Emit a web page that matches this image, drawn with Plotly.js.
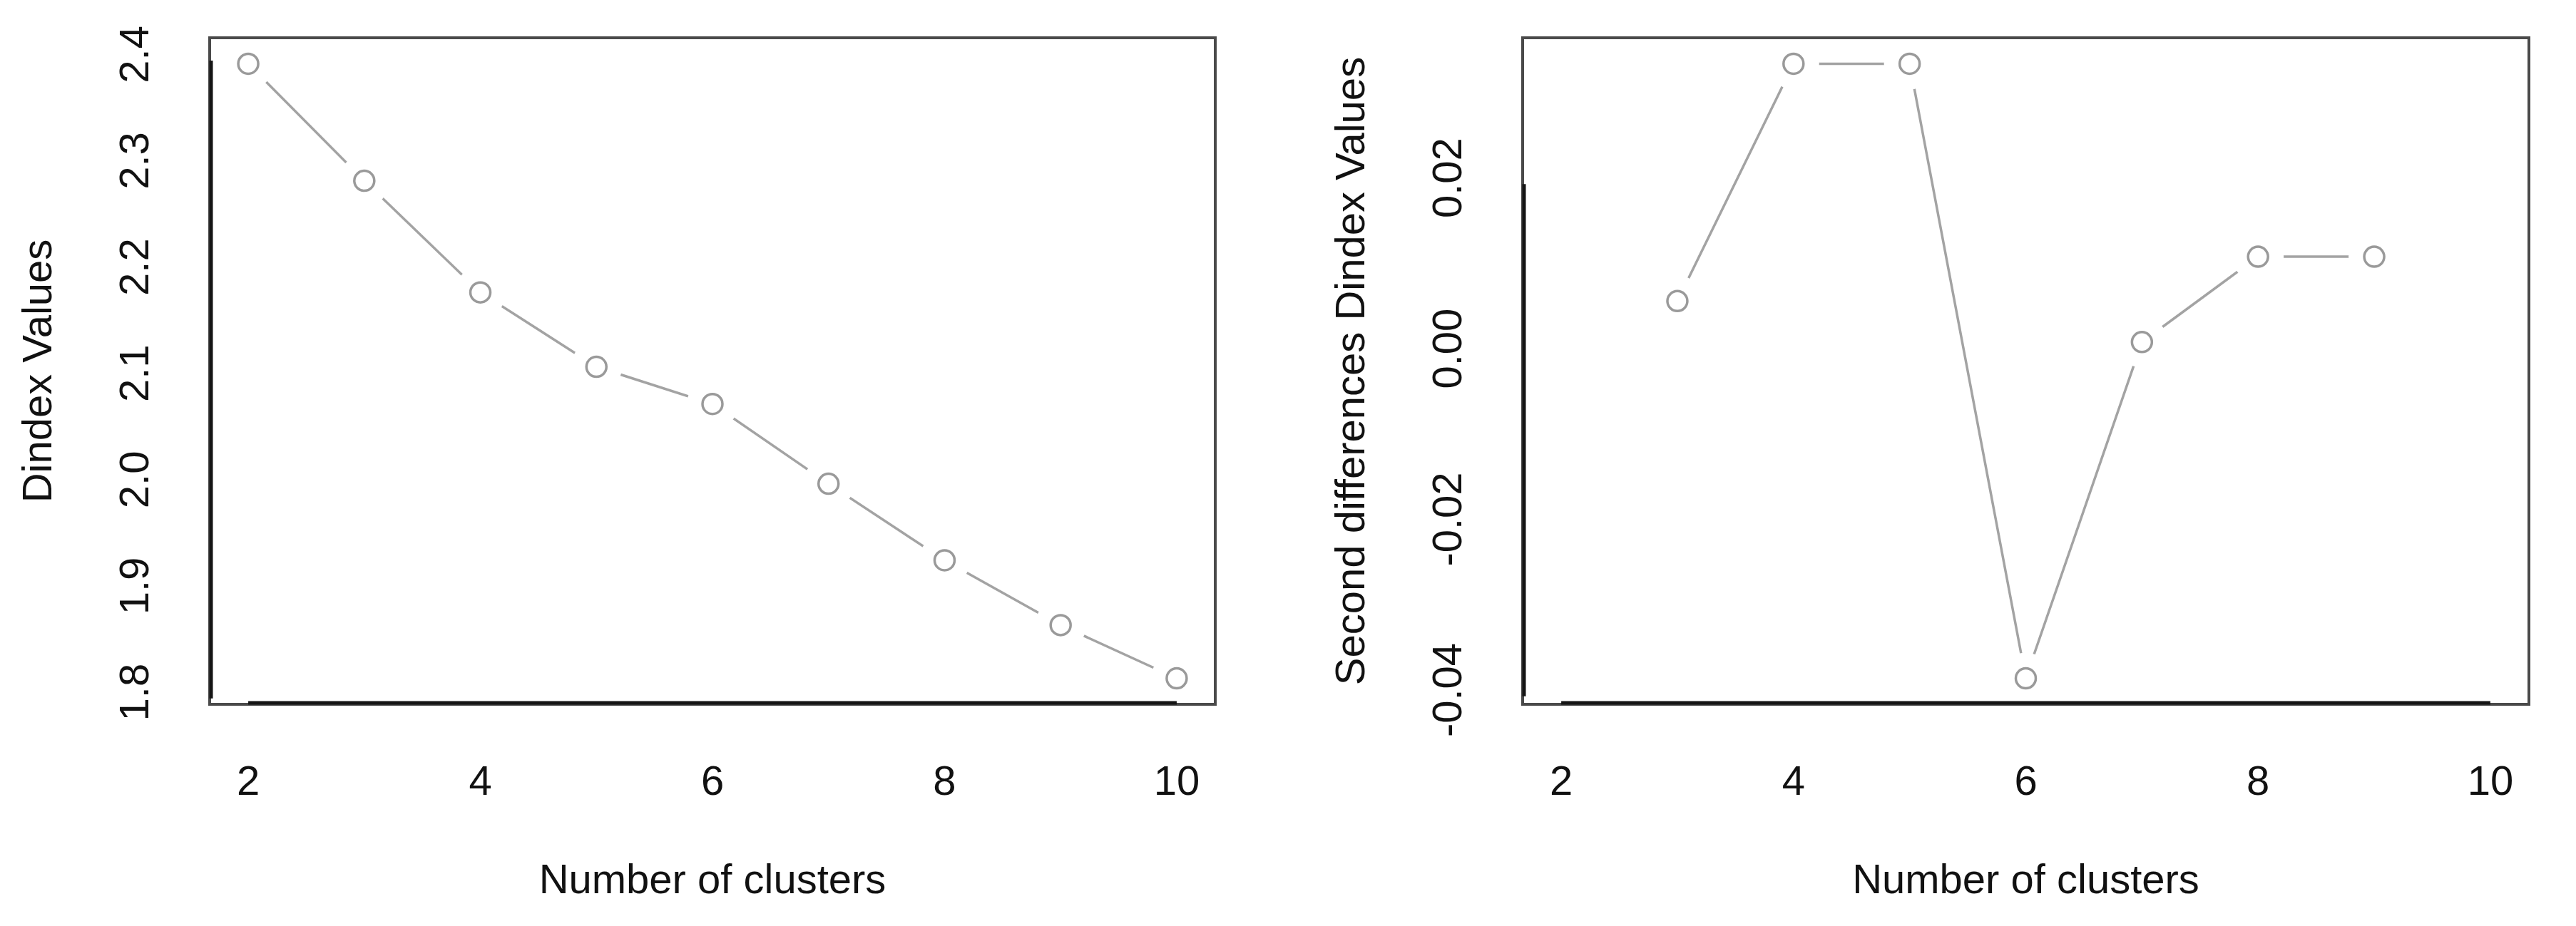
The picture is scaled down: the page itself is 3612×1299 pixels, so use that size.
<!DOCTYPE html>
<html>
<head>
<meta charset="utf-8">
<script src="https://cdn.plot.ly/plotly-3.0.1.min.js"></script>
<style>
  html, body { margin: 0; padding: 0; background: #ffffff; }
  #chart { width: 3612px; height: 1299px; }
</style>
</head>
<body>
<div id="chart"></div>
<script>
// ---- data ----
const clusters = [2, 3, 4, 5, 6, 7, 8, 9, 10];
const dindexValues = [2.397, 2.287, 2.182, 2.112, 2.077, 2.002, 1.930, 1.869, 1.819];

const clustersDiff = [3, 4, 5, 6, 7, 8, 9];
const secondDiffValues = [0.0063, 0.0341, 0.0341, -0.0379, 0.0015, 0.0115, 0.0115];

const xTickVals = [2, 4, 6, 8, 10];
const xTickText = ['2', '4', '6', '8', '10'];
const yTickVals1 = [1.8, 1.9, 2.0, 2.1, 2.2, 2.3, 2.4];
const yTickText1 = ['1.8', '1.9', '2.0', '2.1', '2.2', '2.3', '2.4'];
const yTickVals2 = [-0.04, -0.02, 0.00, 0.02];
const yTickText2 = ['-0.04', '-0.02', '0.00', '0.02'];

const xTitle = 'Number of clusters';
const yTitle1 = 'Dindex Values';
const yTitle2 = 'Second differences Dindex Values';

// ---- styling ----
const FONT = 'Liberation Sans, Arial, Helvetica, sans-serif';
const FS = 58;
const LINE_COL = '#a3a3a3';
const MARK_COL = '#9a9a9a';
const BOX_COL = '#4a4a4a';
const AXIS_COL = '#151515';

// R-style range: data extent padded by 4% each side
function rRange(lo, hi) { const d = hi - lo; return [lo - 0.04 * d, hi + 0.04 * d]; }
const xRange = rRange(Math.min(...xTickVals), Math.max(...xTickVals));
const yRange1 = rRange(Math.min(...dindexValues), Math.max(...dindexValues));
const yRange2 = rRange(Math.min(...secondDiffValues), Math.max(...secondDiffValues));

function seriesTraces(x, y, xa, ya) {
  return [
    { type: 'scatter', mode: 'lines', x: x, y: y, xaxis: xa, yaxis: ya,
      line: { color: LINE_COL, width: 3.5 }, hoverinfo: 'skip' },
    // white discs create R "type='b'" gaps around points
    { type: 'scatter', mode: 'markers', x: x, y: y, xaxis: xa, yaxis: ya,
      marker: { symbol: 'circle', size: 72, color: '#ffffff', line: { width: 0 } }, hoverinfo: 'skip' },
    { type: 'scatter', mode: 'markers', x: x, y: y, xaxis: xa, yaxis: ya,
      marker: { symbol: 'circle-open', size: 28, color: MARK_COL, line: { width: 3.5, color: MARK_COL } },
      hoverinfo: 'skip' }
  ];
}

const data = [].concat(
  seriesTraces(clusters, dindexValues, 'x', 'y'),
  seriesTraces(clustersDiff, secondDiffValues, 'x2', 'y2')
);

const W = 3612, H = 1299;
const yDom = [(H - 986) / H, (H - 55) / H];

function xAxis(domain, anchor) {
  return {
    domain: domain, anchor: anchor, range: xRange,
    showline: true, mirror: true, linecolor: BOX_COL, linewidth: 4,
    showgrid: false, zeroline: false, ticks: '',
    tickvals: xTickVals, ticktext: xTickText,
    ticklabelstandoff: 55,
    tickfont: { family: FONT, size: FS, color: '#111' },
    title: { text: xTitle, standoff: 88, font: { family: FONT, size: FS, color: '#111' } },
    automargin: false, fixedrange: true
  };
}
function yAxis(range, vals, text, title, anchor) {
  return {
    domain: yDom, anchor: anchor, range: range,
    showline: true, mirror: true, linecolor: BOX_COL, linewidth: 4,
    showgrid: false, zeroline: false, ticks: '',
    tickvals: vals, ticktext: text, tickangle: -90,
    ticklabelstandoff: 61,
    tickfont: { family: FONT, size: FS, color: '#111' },
    title: { text: title, standoff: 64, font: { family: FONT, size: FS, color: '#111' } },
    automargin: false, fixedrange: true
  };
}

function axisShapes(xr, yr, xv, yv) {
  return [
    { type: 'line', xref: xr, yref: yr + ' domain', x0: xv[0], x1: xv[xv.length - 1], y0: 0, y1: 0,
      line: { color: AXIS_COL, width: 5 }, layer: 'above' },
    { type: 'line', xref: xr + ' domain', yref: yr, x0: 0, x1: 0, y0: yv[0], y1: yv[yv.length - 1],
      line: { color: AXIS_COL, width: 5 }, layer: 'above' }
  ];
}

const layout = {
  width: W, height: H,
  margin: { l: 0, r: 0, t: 0, b: 0, pad: 0 },
  paper_bgcolor: '#ffffff', plot_bgcolor: '#ffffff',
  showlegend: false,
  xaxis: xAxis([296 / W, 1702 / W], 'y'),
  yaxis: yAxis(yRange1, yTickVals1, yTickText1, yTitle1, 'x'),
  xaxis2: xAxis([2137 / W, 3544 / W], 'y2'),
  yaxis2: yAxis(yRange2, yTickVals2, yTickText2, yTitle2, 'x2'),
  shapes: [].concat(
    axisShapes('x', 'y', xTickVals, yTickVals1),
    axisShapes('x2', 'y2', xTickVals, yTickVals2)
  )
};

Plotly.newPlot('chart', data, layout, { staticPlot: true, displayModeBar: false });
</script>
</body>
</html>
